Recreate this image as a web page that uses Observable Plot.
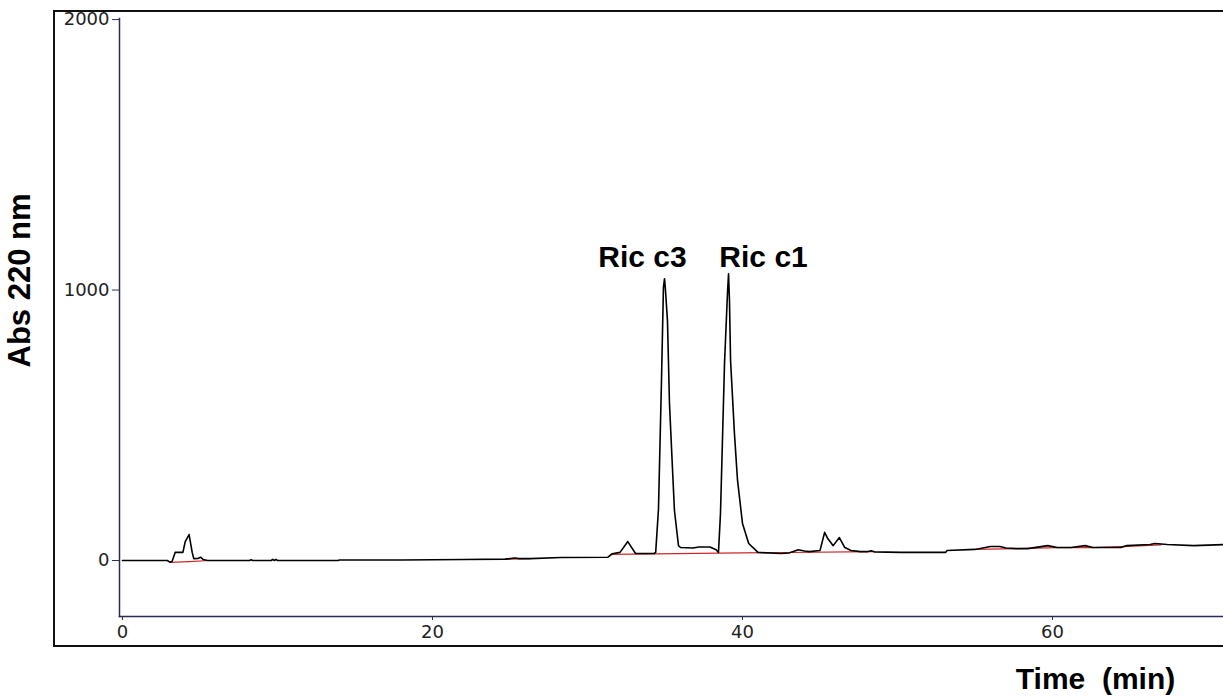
<!DOCTYPE html>
<html>
<head>
<meta charset="utf-8">
<script src="https://cdn.jsdelivr.net/npm/d3@7"></script>
<script src="https://cdn.jsdelivr.net/npm/@observablehq/plot@0.6"></script>
<style>
  html, body { margin: 0; padding: 0; background: #fff; }
  #wrap { position: relative; width: 1223px; height: 697px; overflow: hidden; }
  #outer { position: absolute; left: 53px; top: 10px; width: 1190px; height: 637px; border: 2px solid #111; box-sizing: border-box; }
  #chart { position: absolute; left: 0; top: 0; }
</style>
</head>
<body>
<div id="wrap"><div id="outer"></div><div id="chart"></div></div>
<script>
// Chromatogram trace (time in min, absorbance at 220 nm)
const traceTime = [0,2.9,3.05,3.2,3.4,3.9,4.05,4.3,4.5,4.6,4.9,5.05,5.2,5.5,8.2,8.3,8.4,9.6,9.7,9.8,9.9,10.0,13.9,14.0,18,22,24.7,25.3,25.6,26.3,28.3,31.3,31.6,32.1,32.6,33.1,34.3,34.4,34.58,34.77,34.9,34.97,35.03,35.16,35.29,35.48,35.61,35.87,36.0,36.8,37.2,37.9,38.3,38.45,38.58,38.84,39.03,39.1,39.16,39.23,39.48,39.68,40.0,40.4,41.0,42.5,43.0,43.6,44.0,44.3,45.0,45.3,45.5,45.85,46.25,46.6,47.0,47.6,48.1,48.3,48.5,50.2,53.1,53.2,55.0,56.0,56.6,57.0,57.7,58.4,59.7,60.3,61.2,62.1,62.6,64.4,64.8,66.3,66.6,67.4,69.1,71.1];
const traceAbs  = [0,0,-6,-4,30,30,70,96,30,7,8,12,4,0,0,3,0,0,4,0,4,0,0,2,2,4,5,9,7,7,11,12,25,30,70,26,26,30,190,655,1010,1042,1000,887,580,344,185,55,48,46,50,50,40,30,174,728,987,1060,960,740,470,296,137,63,30,26,28,40,35,33,37,104,81,55,85,48,37,33,33,36,32,30,30,37,41,52,52,46,44,44,55,48,48,55,48,48,55,59,63,59,55,59];

// Integration baseline segments (red)
const baseSeg  = ["A","A","A","B","B","C","C","D","D","D","D","D","D"];
const baseTime = [3.1,4.3,5.6,24.7,26.3,31.5,48.5,55.0,57.7,60.3,62.6,64.8,67.0];
const baseAbs  = [-7,-4,0,5,7,23,33,41,44,48,48,52,58];

// Peak annotations
const peakNames   = ["Ric c3","Ric c1"];
const peakTimes   = [34.97, 39.1];
const peakHeights = [1042, 1060];

// Axis ticks
const xTicks = [0, 20, 40, 60];
const yTicks = [0, 1000, 2000];
const xDomain = [-0.19, 71.03];
const yDomain = [-207, 2004];

const trace = traceTime.map((t, i) => ({t, a: traceAbs[i]}));
const base = baseTime.map((t, i) => ({t, a: baseAbs[i], s: baseSeg[i]}));
const peaks = peakNames.map((n, i) => ({n, t: peakTimes[i], a: peakHeights[i]}));

const boldFont = "Liberation Sans, Arial, sans-serif";

const chart = Plot.plot({
  width: 1223,
  height: 697,
  marginLeft: 119,
  marginRight: 0,
  marginTop: 18,
  marginBottom: 81,
  x: {domain: xDomain},
  y: {domain: yDomain},
  style: {fontFamily: "DejaVu Sans, sans-serif", fontSize: "18px", background: "transparent", overflow: "visible", color: "#222"},
  marks: [
    Plot.frame({anchor: "left", stroke: "#2b2b55", strokeWidth: 1.5}),
    Plot.frame({anchor: "bottom", stroke: "#2b2b55", strokeWidth: 1.5}),
    Plot.axisY({ticks: yTicks, tickSize: 7, tickPadding: 3, tickFormat: "d", label: null, stroke: "#2b2b55"}),
    Plot.axisX({ticks: xTicks, tickSize: 4, tickPadding: 5, tickFormat: "d", label: null, stroke: "#2b2b55"}),
    Plot.line(base, {x: "t", y: "a", z: "s", stroke: "#d02828", strokeWidth: 1.2}),
    Plot.line(trace, {x: "t", y: "a", stroke: "#000", strokeWidth: 1.6}),
    Plot.text([peaks[0]], {x: "t", y: "a", text: "n", dx: -22, dy: -12, lineAnchor: "bottom", fontSize: 30, fontWeight: "bold", fontFamily: boldFont, fill: "#000"}),
    Plot.text([peaks[1]], {x: "t", y: "a", text: "n", dx: 35, dy: -7, lineAnchor: "bottom", fontSize: 30, fontWeight: "bold", fontFamily: boldFont, fill: "#000"}),
    Plot.text(["Abs 220 nm"], {frameAnchor: "left", dx: -99, dy: -37, rotate: -90, textAnchor: "middle", fontSize: 31, fontWeight: "bold", fontFamily: boldFont, fill: "#000"}),
    Plot.text(["Time  (min)"], {frameAnchor: "bottom-right", dx: -128, dy: 72, lineAnchor: "bottom", textAnchor: "middle", fontSize: 30, fontWeight: "bold", fontFamily: boldFont, fill: "#000"})
  ]
});
document.getElementById("chart").appendChild(chart);
</script>
</body>
</html>
